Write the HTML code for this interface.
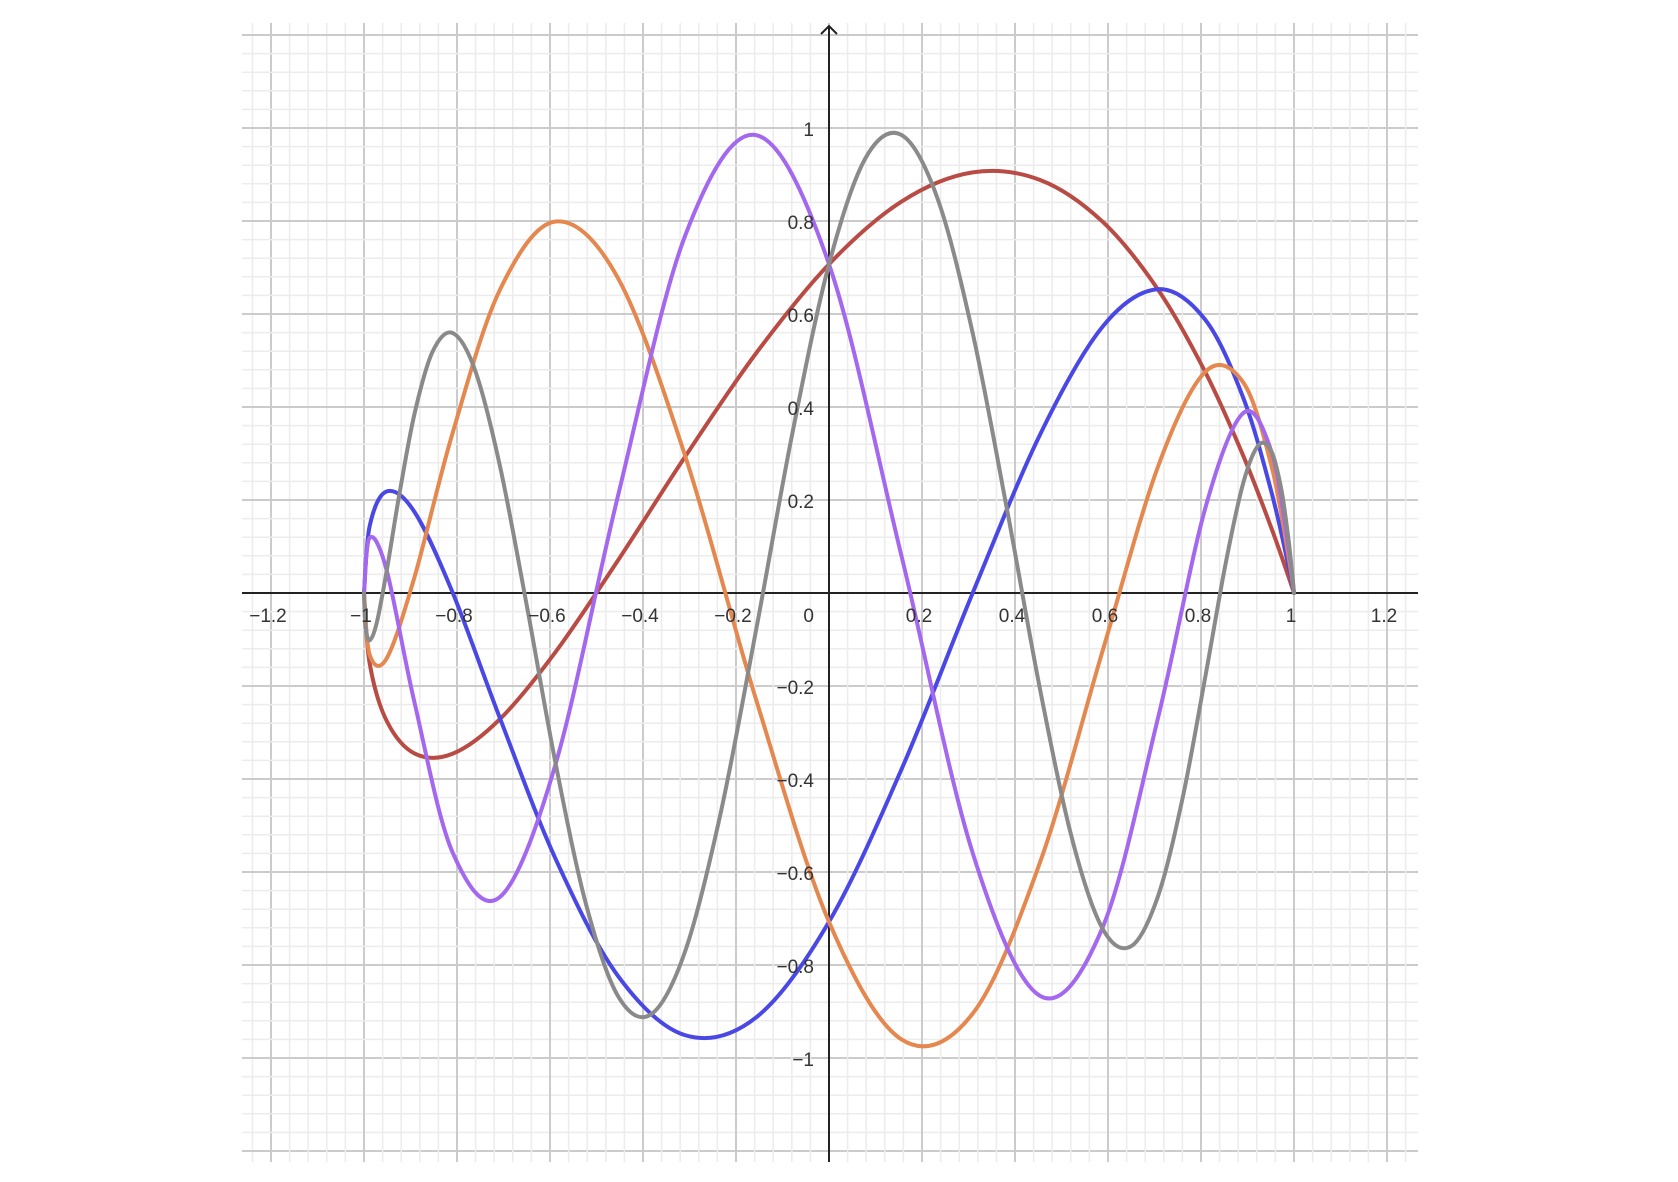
<!DOCTYPE html>
<html><head><meta charset="utf-8"><style>
html,body{margin:0;padding:0;background:#fff;}
svg{display:block;font-family:"Liberation Sans",sans-serif;}
</style></head><body>
<svg id="chart" width="1678" height="1182" viewBox="0 0 1678 1182" xmlns="http://www.w3.org/2000/svg">
<g id="grid"></g>
<g id="axes"></g>
<g id="series"></g>
<g id="labels"></g>
</svg>
<script>
// x samples on a 9° parameter grid (21 points)
const xs21 = [1,.9877,.9511,.8910,.8090,.7071,.5878,.4540,.3090,.1564,0,-.1564,-.3090,-.4540,-.5878,-.7071,-.8090,-.8910,-.9511,-.9877,-1];
// x samples on a 4.5° parameter grid (41 points)
const xs41 = [1,.9969,.9877,.9724,.9511,.9239,.8910,.8526,.8090,.7604,.7071,.6494,.5878,.5225,.4540,.3827,.3090,.2334,.1564,.0785,0,-.0785,-.1564,-.2334,-.3090,-.3827,-.4540,-.5225,-.5878,-.6494,-.7071,-.7604,-.8090,-.8526,-.8910,-.9239,-.9511,-.9724,-.9877,-.9969,-1];
const redY = [0,.0365,.1403,.2948,.4755,.6533,.7990,.8882,.9046,.8421,.7071,.5161,.2939,.0699,-.1265,-.2706,-.3455,-.3452,-.2753,-.1521,0];
const blueY = [0,.0599,.2185,.4194,.5878,.6533,.5721,.3410,0,-.3780,-.7071,-.9125,-.9511,-.8232,-.5721,-.2706,0,.1737,.2185,.1445,0];
const orangeY = [0,.0817,.2753,.4526,.4755,.2706,-.1265,-.5786,-.9046,-.9604,-.7071,-.2305,.2939,.6775,.7990,.6533,.3455,.0356,-.1403,-.1333,0];
const purpleY = [0,.1016,.3052,.3871,.1816,-.2706,-.7208,-.8664,-.5590,.0775,.7071,.9846,.7694,.2080,-.3673,-.6533,-.5590,-.2372,.0483,.1189,0];
const grayY = [0,.0329,.1189,.2246,.3052,.3182,.2372,.0614,-.1816,-.4411,-.6533,-.7598,-.7208,-.5278,-.2080,.1803,.5590,.8484,.9846,.9353,.7071,.3450,-.0775,-.4751,-.7694,-.9061,-.8664,-.6695,-.3673,-.0299,.2706,.4769,.5590,.5189,.3871,.2126,.0483,-.0633,-.1016,-.0713,0];
const xTickLabels = ["−1.2","−1","−0.8","−0.6","−0.4","−0.2","0.2","0.4","0.6","0.8","1","1.2"];
const xTickVals = [-1.2,-1,-0.8,-0.6,-0.4,-0.2,0.2,0.4,0.6,0.8,1,1.2];
const yTickLabels = ["1","0.8","0.6","0.4","0.2","−0.2","−0.4","−0.6","−0.8","−1"];
const yTickVals = [1,0.8,0.6,0.4,0.2,-0.2,-0.4,-0.6,-0.8,-1];

const NS="http://www.w3.org/2000/svg";
const X0=829, Y0=593, U=465;
const L=242, R=1418, T=23, B=1162;
function sx(v){return X0+v*U;}
function sy(v){return Y0-v*U;}
function mk(tag,attrs,parent){const e=document.createElementNS(NS,tag);for(const k in attrs)e.setAttribute(k,attrs[k]);parent.appendChild(e);return e;}
const grid=document.getElementById('grid'),axes=document.getElementById('axes'),ser=document.getElementById('series'),lab=document.getElementById('labels');
// minor grid
for(let i=-40;i<=40;i++){
  const v=i*0.04; const major=(i%5===0);
  const px=sx(v);
  if(px>=L&&px<=R){const l=mk('line',{x1:px,y1:T,x2:px,y2:B,stroke:major?'#cbcbcb':'#ececec','stroke-width':major?2:1.5},grid);
    
    }
  const py=sy(v);
  if(py>=T&&py<=B){const l=mk('line',{x1:L,y1:py,x2:R,y2:py,stroke:major?'#cbcbcb':'#ececec','stroke-width':major?2:1.5},grid);
    
    }
}
// axes
const xa=mk('line',{x1:L,y1:Y0,x2:R,y2:Y0,stroke:'#222','stroke-width':2},axes);


const ya=mk('line',{x1:X0,y1:26,x2:X0,y2:B,stroke:'#222','stroke-width':2},axes);


const ar=mk('path',{d:`M${X0-8},${34} L${X0},${26} L${X0+8},${34}`,fill:'none',stroke:'#222','stroke-width':2},axes);


// curves
function path(xsArr,ysArr){
  const p=xsArr.map((x,i)=>[sx(x),sy(ysArr[i])]);
  let d=`M${p[0][0].toFixed(2)},${p[0][1].toFixed(2)}`;
  for(let i=0;i<p.length-1;i++){
    const p0=p[Math.max(0,i-1)],p1=p[i],p2=p[i+1],p3=p[Math.min(p.length-1,i+2)];
    const c1=[p1[0]+(p2[0]-p0[0])/6,p1[1]+(p2[1]-p0[1])/6];
    const c2=[p2[0]-(p3[0]-p1[0])/6,p2[1]-(p3[1]-p1[1])/6];
    d+=` C${c1[0].toFixed(2)},${c1[1].toFixed(2)} ${c2[0].toFixed(2)},${c2[1].toFixed(2)} ${p2[0].toFixed(2)},${p2[1].toFixed(2)}`;
  }
  return d;
}
const seriesList=[[xs21,redY,'#b84c44','red-curve'],[xs21,blueY,'#4a48e4','blue-curve'],[xs21,orangeY,'#e4884f','orange-curve'],[xs21,purpleY,'#a468ee','purple-curve'],[xs41,grayY,'#8a8a8a','gray-curve']];
for(const s of seriesList){
  const e=mk('path',{d:path(s[0],s[1]),fill:'none',stroke:s[2],'stroke-width':4,'stroke-linejoin':'round','stroke-linecap':'round'},ser);
  
  
}
// labels
xTickVals.forEach((v,i)=>{
  const t=mk('text',{x:sx(v)-3,y:Y0+29,'text-anchor':'middle','font-size':19,fill:'#333'},lab);
  t.textContent=xTickLabels[i];
  
  
});
yTickVals.forEach((v,i)=>{
  const t=mk('text',{x:X0-15,y:sy(v)+8,'text-anchor':'end','font-size':19,fill:'#333'},lab);
  t.textContent=yTickLabels[i];
  
  
});
const z=mk('text',{x:X0-15,y:Y0+29,'text-anchor':'end','font-size':19,fill:'#333'},lab);
z.textContent='0';


</script>
</body></html>
